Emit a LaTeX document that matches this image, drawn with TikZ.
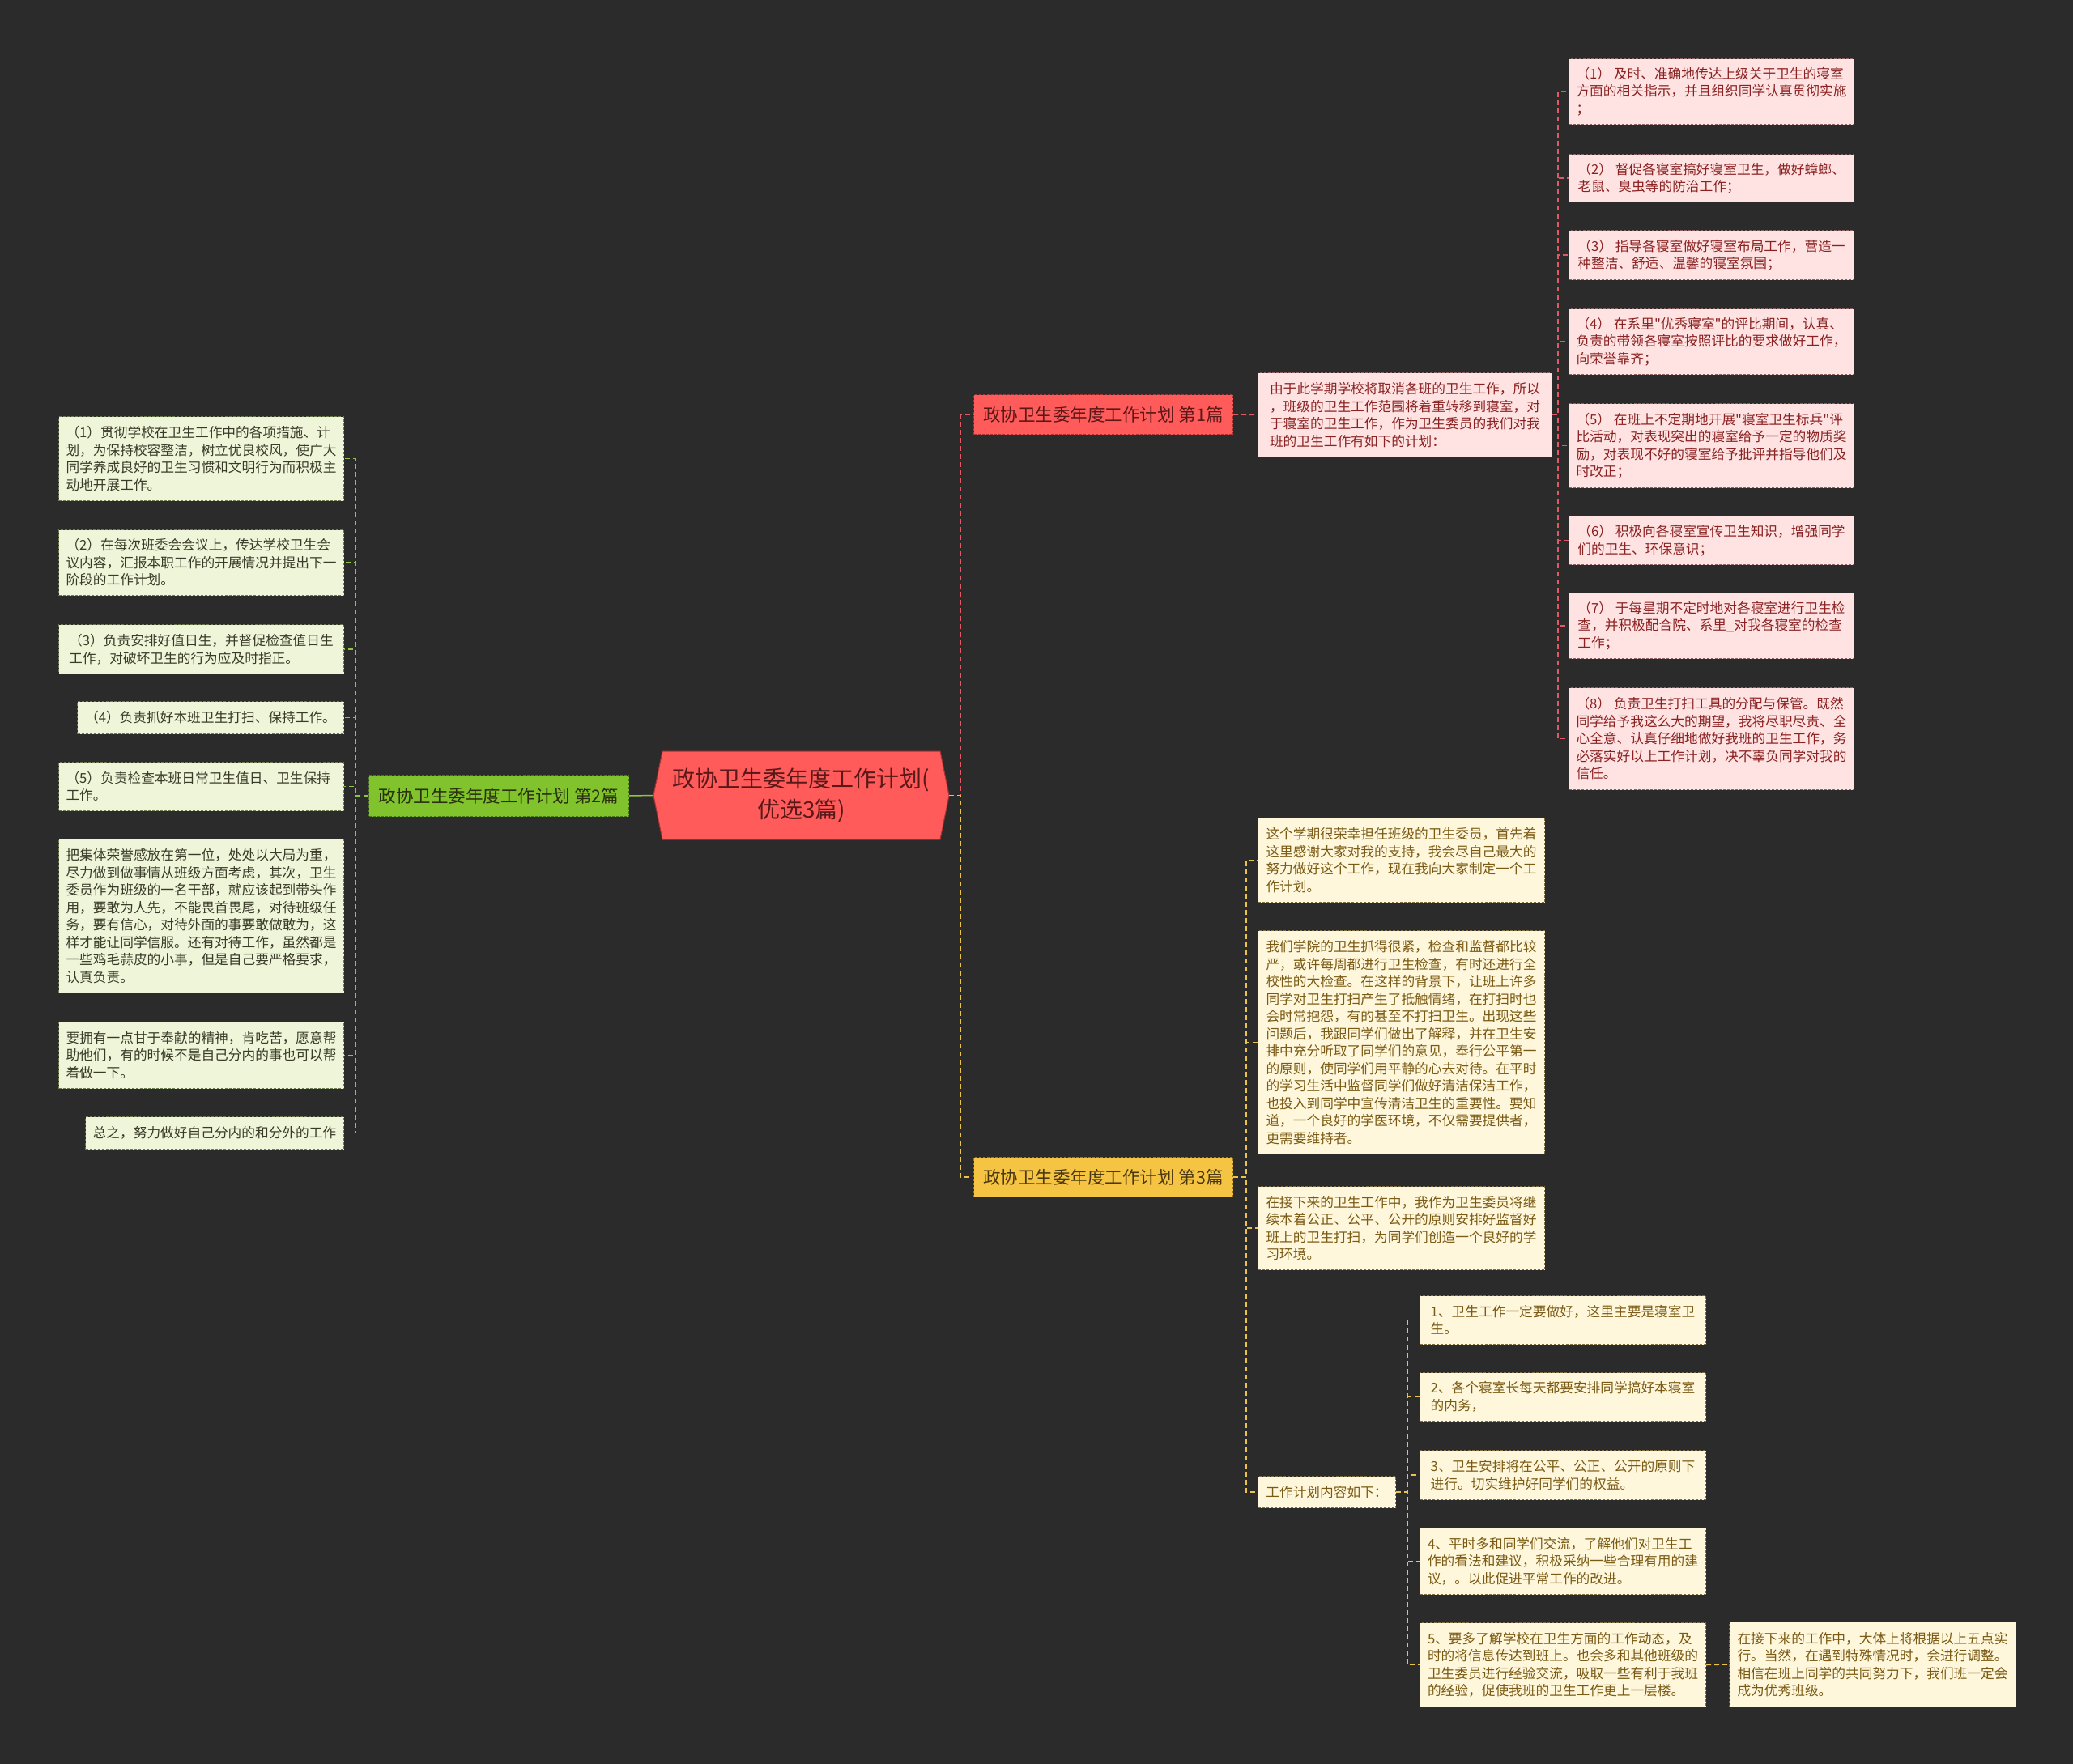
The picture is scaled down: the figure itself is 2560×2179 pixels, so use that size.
\documentclass[tikz,border=0pt]{standalone}
\usepackage{fontspec}
\setmainfont{Noto Sans CJK SC}
\newfontfamily\cjk{Noto Sans CJK SC}
\definecolor{bgc}{HTML}{2B2B2B}
\definecolor{pinkfill}{HTML}{FFE3E3}
\definecolor{pinkline}{HTML}{8A6464}
\definecolor{pinktext}{HTML}{8B2222}
\definecolor{greenfill}{HTML}{EEF5D8}
\definecolor{greenline}{HTML}{6E7A52}
\definecolor{greentext}{HTML}{3A3A28}
\definecolor{yelfill}{HTML}{FFF7DB}
\definecolor{yelline}{HTML}{7E6E44}
\definecolor{yeltext}{HTML}{7A5A14}
\definecolor{redfill}{HTML}{FF5B5B}
\definecolor{redline}{HTML}{A83434}
\definecolor{redtext}{HTML}{5A1818}
\definecolor{grnfill}{HTML}{80C32C}
\definecolor{grnline}{HTML}{4A7A18}
\definecolor{grntext}{HTML}{2A3010}
\definecolor{ylwfill}{HTML}{F6C443}
\definecolor{ylwline}{HTML}{9A7A20}
\definecolor{ylwtext}{HTML}{4A3810}
\definecolor{cred}{HTML}{E05A66}
\definecolor{cgrn}{HTML}{8DC63F}
\definecolor{cylw}{HTML}{EBC24A}
\tikzset{
  bx/.style={draw, dash pattern=on 3pt off 2pt, line width=1pt, anchor=north west,
    align=left, inner xsep=8pt, inner ysep=0pt,
    font=\cjk\fontsize{16.7}{21.5}\selectfont},
  pk/.style={bx, fill=pinkfill, draw=pinkline, text=pinktext},
  gr/.style={bx, fill=greenfill, draw=greenline, text=greentext},
  yl/.style={bx, fill=yelfill, draw=yelline, text=yeltext},
  br/.style={draw, dash pattern=on 3pt off 2pt, line width=1pt, anchor=north west,
    inner sep=0pt, minimum width=320pt, font=\cjk\fontsize{21.5}{26}\selectfont},
  c1/.style={draw=cred, line width=1.5pt, dash pattern=on 6pt off 4pt},
  c2/.style={draw=cgrn, line width=1.5pt, dash pattern=on 6pt off 4pt},
  c3/.style={draw=cylw, line width=1.5pt, dash pattern=on 6pt off 4pt},
}
\begin{document}
\begin{tikzpicture}[x=1pt,y=-1pt]
\fill[bgc] (0,0) rectangle (2560,2179);
\useasboundingbox (0,0) rectangle (2560,2179);

% central node
\fill[redfill, draw=redline, line width=1pt] (807,982.5) -- (818,928) -- (1161,928) -- (1172,982.5) -- (1161,1037) -- (818,1037) -- cycle;
\node[minimum width=365pt, minimum height=109pt, inner sep=0pt, align=center, text=redtext,
  font=\cjk\fontsize{28}{38}\selectfont] (root) at (989.5,982.5) {政协卫生委年度工作计划(\\优选3篇)};

% branch nodes
\node[br, fill=redfill, draw=redline, text=redtext, minimum height=49pt] (b1) at (1202,487) {政协卫生委年度工作计划~第1篇};
\node[br, fill=grnfill, draw=grnline, text=grntext, minimum width=321pt, minimum height=51pt] (b2) at (455,957) {政协卫生委年度工作计划~第2篇};
\node[br, fill=ylwfill, draw=ylwline, text=ylwtext, minimum height=49pt] (b3) at (1202,1429) {政协卫生委年度工作计划~第3篇};

% branch 1
\node[pk, minimum width=363pt, minimum height=104pt] (p0) at (1553,460) {由于此学期学校将取消各班的卫生工作，所以\\，班级的卫生工作范围将着重转移到寝室，对\\于寝室的卫生工作，作为卫生委员的我们对我\\班的卫生工作有如下的计划：};
\node[pk, minimum width=352pt, minimum height=81pt] (p1) at (1937,72) {（1）~及时、准确地传达上级关于卫生的寝室\\方面的相关指示，并且组织同学认真贯彻实施\\；};
\node[pk, minimum width=352pt, minimum height=59pt] (p2) at (1937,190) {（2）~督促各寝室搞好寝室卫生，做好蟑螂、\\老鼠、臭虫等的防治工作；};
\node[pk, minimum width=352pt, minimum height=61pt] (p3) at (1937,284) {（3）~指导各寝室做好寝室布局工作，营造一\\种整洁、舒适、温馨的寝室氛围；};
\node[pk, minimum width=352pt, minimum height=81pt] (p4) at (1937,381) {（4）~在系里"优秀寝室"的评比期间，认真、\\负责的带领各寝室按照评比的要求做好工作，\\向荣誉靠齐；};
\node[pk, minimum width=352pt, minimum height=104pt] (p5) at (1937,498) {（5）~在班上不定期地开展"寝室卫生标兵"评\\比活动，对表现突出的寝室给予一定的物质奖\\励，对表现不好的寝室给予批评并指导他们及\\时改正；};
\node[pk, minimum width=352pt, minimum height=60pt] (p6) at (1937,637) {（6）~积极向各寝室宣传卫生知识，增强同学\\们的卫生、环保意识；};
\node[pk, minimum width=352pt, minimum height=81pt] (p7) at (1937,732) {（7）~于每星期不定时地对各寝室进行卫生检\\查，并积极配合院、系里\_对我各寝室的检查\\工作；};
\node[pk, minimum width=352pt, minimum height=126pt] (p8) at (1937,849) {（8）~负责卫生打扫工具的分配与保管。既然\\同学给予我这么大的期望，我将尽职尽责、全\\心全意、认真仔细地做好我班的卫生工作，务\\必落实好以上工作计划，决不辜负同学对我的\\信任。};

% branch 2
\node[gr, minimum width=352pt, minimum height=104pt] (g1) at (72,514) {（1）贯彻学校在卫生工作中的各项措施、计\\划，为保持校容整洁，树立优良校风，使广大\\同学养成良好的卫生习惯和文明行为而积极主\\动地开展工作。};
\node[gr, minimum width=352pt, minimum height=81pt] (g2) at (72,654) {（2）在每次班委会会议上，传达学校卫生会\\议内容，汇报本职工作的开展情况并提出下一\\阶段的工作计划。};
\node[gr, minimum width=352pt, minimum height=61pt] (g3) at (72,771) {（3）负责安排好值日生，并督促检查值日生\\工作，对破坏卫生的行为应及时指正。};
\node[gr, minimum width=329pt, minimum height=40pt] (g4) at (95,866) {（4）负责抓好本班卫生打扫、保持工作。};
\node[gr, minimum width=352pt, minimum height=60pt] (g5) at (72,941) {（5）负责检查本班日常卫生值日、卫生保持\\工作。\hphantom{负责检查本班日常卫生值日、卫生保持}};
\node[gr, minimum width=352pt, minimum height=190pt] (g6) at (72,1036) {把集体荣誉感放在第一位，处处以大局为重，\\尽力做到做事情从班级方面考虑，其次，卫生\\委员作为班级的一名干部，就应该起到带头作\\用，要敢为人先，不能畏首畏尾，对待班级任\\务，要有信心，对待外面的事要敢做敢为，这\\样才能让同学信服。还有对待工作，虽然都是\\一些鸡毛蒜皮的小事，但是自己要严格要求，\\认真负责。};
\node[gr, minimum width=352pt, minimum height=82pt] (g7) at (72,1262) {要拥有一点甘于奉献的精神，肯吃苦，愿意帮\\助他们，有的时候不是自己分内的事也可以帮\\着做一下。};
\node[gr, minimum width=319pt, minimum height=40pt] (g8) at (105,1379) {总之，努力做好自己分内的和分外的工作};

% branch 3
\node[yl, minimum width=354pt, minimum height=104pt] (y1) at (1553,1010) {这个学期很荣幸担任班级的卫生委员，首先着\\这里感谢大家对我的支持，我会尽自己最大的\\努力做好这个工作，现在我向大家制定一个工\\作计划。};
\node[yl, minimum width=354pt, minimum height=276pt] (y2) at (1553,1149) {我们学院的卫生抓得很紧，检查和监督都比较\\严，或许每周都进行卫生检查，有时还进行全\\校性的大检查。在这样的背景下，让班上许多\\同学对卫生打扫产生了抵触情绪，在打扫时也\\会时常抱怨，有的甚至不打扫卫生。出现这些\\问题后，我跟同学们做出了解释，并在卫生安\\排中充分听取了同学们的意见，奉行公平第一\\的原则，使同学们用平静的心去对待。在平时\\的学习生活中监督同学们做好清洁保洁工作，\\也投入到同学中宣传清洁卫生的重要性。要知\\道，一个良好的学医环境，不仅需要提供者，\\更需要维持者。};
\node[yl, minimum width=354pt, minimum height=103pt] (y3) at (1553,1465) {在接下来的卫生工作中，我作为卫生委员将继\\续本着公正、公平、公开的原则安排好监督好\\班上的卫生打扫，为同学们创造一个良好的学\\习环境。};
\node[yl, minimum width=170pt, minimum height=39pt] (y4) at (1553,1823) {工作计划内容如下：};
\node[yl, minimum width=353pt, minimum height=60pt] (s1) at (1753,1600) {1、卫生工作一定要做好，这里主要是寝室卫\\生。};
\node[yl, minimum width=353pt, minimum height=60pt] (s2) at (1753,1695) {2、各个寝室长每天都要安排同学搞好本寝室\\的内务，};
\node[yl, minimum width=353pt, minimum height=61pt] (s3) at (1753,1791) {3、卫生安排将在公平、公正、公开的原则下\\进行。切实维护好同学们的权益。};
\node[yl, minimum width=353pt, minimum height=82pt] (s4) at (1753,1887) {4、平时多和同学们交流，了解他们对卫生工\\作的看法和建议，积极采纳一些合理有用的建\\议，。以此促进平常工作的改进。};
\node[yl, minimum width=353pt, minimum height=104pt] (s5) at (1753,2004) {5、要多了解学校在卫生方面的工作动态，及\\时的将信息传达到班上。也会多和其他班级的\\卫生委员进行经验交流，吸取一些有利于我班\\的经验，促使我班的卫生工作更上一层楼。};
\node[yl, minimum width=354pt, minimum height=105pt] (s6) at (2135,2003) {在接下来的工作中，大体上将根据以上五点实\\行。当然，在遇到特殊情况时，会进行调整。\\相信在班上同学的共同努力下，我们班一定会\\成为优秀班级。};

% connectors
\draw[c1] (root.east) -- ++(14,0) |- (b1.west);
\draw[c3] (root.east) -- ++(14,0) |- (b3.west);
\draw[draw=cgrn, line width=1.5pt] (root.west) -- (b2.east);
\foreach \n in {g1,g2,g3,g4,g5,g6,g7,g8} \draw[c2] (b2.west) -- ++(-16,0) |- (\n.east);
\draw[c1] (b1.east) -- (p0.west);
\foreach \n in {p1,p2,p3,p4,p5,p6,p7,p8} \draw[c1] (p0.east) -- ++(7,0) |- (\n.west);
\foreach \n in {y1,y2,y3,y4} \draw[c3] (b3.east) -- ++(16,0) |- (\n.west);
\foreach \n in {s1,s2,s3,s4,s5} \draw[c3] (y4.east) -- ++(14,0) |- (\n.west);
\draw[c3] (s5.east) -- (s6.west);
\end{tikzpicture}
\end{document}
